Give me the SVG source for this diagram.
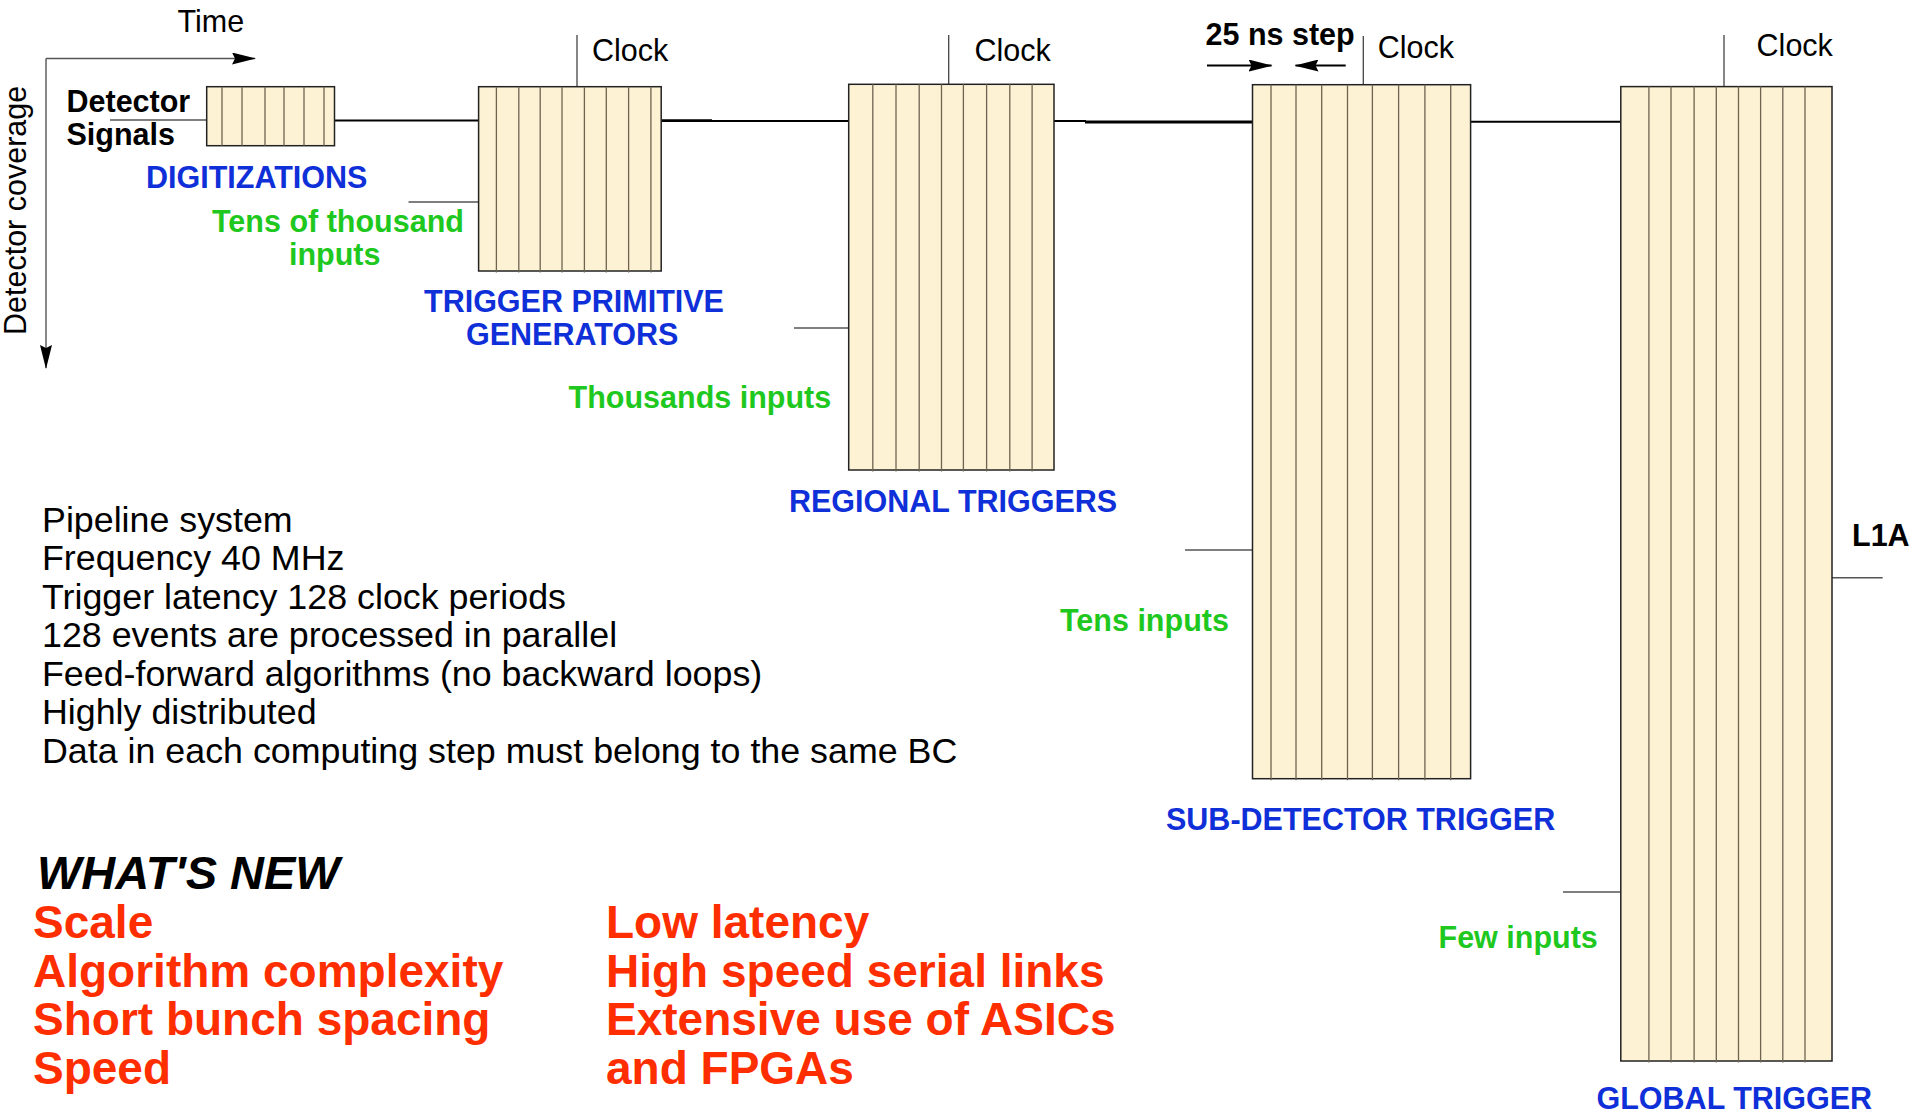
<svg xmlns="http://www.w3.org/2000/svg" width="1909" height="1113" viewBox="0 0 1909 1113">
  <style>
    text { font-family: "Liberation Sans", Arial, Helvetica, sans-serif; }
    .lbl { font-size: 30.5px; fill: #000; }
    .bold { font-weight: bold; }
    .blue { font-size: 30.5px; font-weight: bold; fill: #0f2fd8; }
    .green { font-size: 30.5px; font-weight: bold; fill: #1ec81e; }
    .body { font-size: 35.8px; fill: #000; }
    .red { font-size: 46px; font-weight: bold; fill: #ff2e00; }
    .box { fill: #fef2d5; stroke: #222; stroke-width: 1.5; }
    .col { stroke: #6e6450; stroke-width: 1.3; fill: none; }
    .wire { stroke: #000; stroke-width: 2; fill: none; }
    .wire-thick { stroke: #000; stroke-width: 2.8; fill: none; }
    .tap { stroke: #555; stroke-width: 1.4; fill: none; }
    .clk { stroke: #444; stroke-width: 1.3; fill: none; }
  </style>
  <defs>
    <marker id="arrow" markerUnits="userSpaceOnUse" markerWidth="24" markerHeight="12" refX="23" refY="6" orient="auto">
      <path d="M0,0 L24,6 L0,12 L3,6 z" fill="#000"/>
    </marker>
  </defs>

  <rect width="1909" height="1113" fill="#fff"/>

  <!-- axes -->
  <g id="axes">
    <line class="tap" x1="46" y1="58.5" x2="255" y2="58.5" stroke="#333" marker-end="url(#arrow)"/>
    <line class="tap" x1="46" y1="58.5" x2="46" y2="368" stroke="#333" marker-end="url(#arrow)"/>
    <text class="lbl" x="177.5" y="31.5">Time</text>
    <text class="lbl" transform="translate(26,335) rotate(-90)">Detector coverage</text>
  </g>

  <!-- connectors between stages -->
  <g id="connectors">
    <line class="tap" x1="110" y1="120" x2="206.7" y2="120" stroke="#000" stroke-width="1.8"/>
    <line class="wire" x1="334.5" y1="120.5" x2="478.6" y2="120.5"/>
    <line class="wire-thick" x1="661" y1="120.7" x2="712" y2="120.7"/>
    <line class="wire" x1="712" y1="121" x2="848.7" y2="121"/>
    <line class="wire" x1="1054" y1="121" x2="1086" y2="121"/>
    <line class="wire-thick" x1="1085" y1="122" x2="1252.5" y2="122"/>
    <line class="wire" x1="1470.6" y1="121.8" x2="1620.8" y2="121.8"/>
    <!-- clock taps -->
    <line class="clk" x1="577" y1="35" x2="577" y2="86.7"/>
    <line class="clk" x1="948.7" y1="35" x2="948.7" y2="84.3"/>
    <line class="clk" x1="1363.3" y1="36" x2="1363.3" y2="84.7"/>
    <line class="clk" x1="1724" y1="35" x2="1724" y2="86.6"/>
    <!-- side inputs -->
    <line class="tap" x1="408.5" y1="202" x2="478.6" y2="202"/>
    <line class="tap" x1="794" y1="328" x2="848.7" y2="328"/>
    <line class="tap" x1="1185" y1="550" x2="1252.5" y2="550"/>
    <line class="tap" x1="1563" y1="892" x2="1620.8" y2="892"/>
    <!-- L1A output -->
    <line class="tap" x1="1832" y1="577.7" x2="1882.7" y2="577.7"/>
    <!-- 25 ns step markers -->
    <line class="wire" x1="1207" y1="65.5" x2="1271.5" y2="65.5" stroke-width="1.4" marker-end="url(#arrow)"/>
    <line class="wire" x1="1345.7" y1="65.5" x2="1295.5" y2="65.5" stroke-width="1.4" marker-end="url(#arrow)"/>
  </g>

  <g id="detector-signals">
    <text class="lbl bold" x="66.5" y="112">Detector</text>
    <text class="lbl bold" x="66.5" y="144.5">Signals</text>
  </g>

  <g id="digitizations">
    <rect class="box" x="206.7" y="86.7" width="127.8" height="59"/>
    <path class="col" d="M222,86.7V145.7 M242,86.7V145.7 M265,86.7V145.7 M284,86.7V145.7 M304,86.7V145.7 M324,86.7V145.7"/>
    <text class="blue" x="146" y="188">DIGITIZATIONS</text>
  </g>

  <g id="trigger-primitive-generators">
    <rect class="box" x="478.6" y="86.7" width="182.6" height="184.3"/>
    <path class="col" d="M496.4,86.7V272.5 M518.8,86.7V272.5 M540.2,86.7V272.5 M562,86.7V272.5 M584.4,86.7V272.5 M606.3,86.7V272.5 M628.6,86.7V272.5 M650.9,86.7V272.5"/>
    <text class="lbl" x="592" y="60.5">Clock</text>
    <text class="green" x="212" y="232">Tens of thousand</text>
    <text class="green" x="289" y="265">inputs</text>
    <text class="blue" x="424" y="312">TRIGGER PRIMITIVE</text>
    <text class="blue" x="466" y="345">GENERATORS</text>
  </g>

  <g id="regional-triggers">
    <rect class="box" x="848.7" y="84.3" width="205.3" height="385.7"/>
    <path class="col" d="M872.8,84.3V471.5 M896,84.3V471.5 M919.2,84.3V471.5 M941.5,84.3V471.5 M963.4,84.3V471.5 M986.6,84.3V471.5 M1009.8,84.3V471.5 M1032.1,84.3V471.5"/>
    <text class="lbl" x="974.5" y="60.5">Clock</text>
    <text class="green" x="568.6" y="408">Thousands inputs</text>
    <text class="blue" x="789" y="511.5">REGIONAL TRIGGERS</text>
  </g>

  <g id="sub-detector-trigger">
    <rect class="box" x="1252.5" y="84.7" width="218.1" height="694"/>
    <path class="col" d="M1271,84.7V780.2 M1296,84.7V780.2 M1321.7,84.7V780.2 M1347.5,84.7V780.2 M1372.4,84.7V780.2 M1398.6,84.7V780.2 M1424.9,84.7V780.2 M1450.7,84.7V780.2"/>
    <text class="lbl" x="1377.8" y="58">Clock</text>
    <text class="lbl bold" x="1205.5" y="45">25 ns step</text>
    <text class="green" x="1060" y="631">Tens inputs</text>
    <text class="blue" x="1166" y="830">SUB-DETECTOR TRIGGER</text>
  </g>

  <g id="global-trigger">
    <rect class="box" x="1620.8" y="86.6" width="211.2" height="974.4"/>
    <path class="col" d="M1648.9,86.6V1062.5 M1671,86.6V1062.5 M1694.1,86.6V1062.5 M1716.3,86.6V1062.5 M1738.5,86.6V1062.5 M1760.6,86.6V1062.5 M1782.8,86.6V1062.5 M1805,86.6V1062.5"/>
    <text class="lbl" x="1756.6" y="55.5">Clock</text>
    <text class="green" x="1438.5" y="948">Few inputs</text>
    <text class="blue" x="1596.5" y="1108.5">GLOBAL TRIGGER</text>
    <text class="lbl bold" x="1852" y="546">L1A</text>
  </g>

  <g id="properties">
    <text class="body" x="42" y="531.7">Pipeline system</text>
    <text class="body" x="42" y="570">Frequency 40 MHz</text>
    <text class="body" x="42" y="608.5">Trigger latency 128 clock periods</text>
    <text class="body" x="42" y="647">128 events are processed in parallel</text>
    <text class="body" x="42" y="685.5">Feed-forward algorithms (no backward loops)</text>
    <text class="body" x="42" y="724">Highly distributed</text>
    <text class="body" x="42" y="762.5">Data in each computing step must belong to the same BC</text>
  </g>

  <g id="whats-new">
    <text x="37" y="889" font-size="47" font-weight="bold" font-style="italic" fill="#000">WHAT'S NEW</text>
    <text class="red" x="33" y="938">Scale</text>
    <text class="red" x="33" y="987">Algorithm complexity</text>
    <text class="red" x="33" y="1035">Short bunch spacing</text>
    <text class="red" x="33" y="1083.5">Speed</text>
    <text class="red" x="606" y="938">Low latency</text>
    <text class="red" x="606" y="987">High speed serial links</text>
    <text class="red" x="606" y="1035">Extensive use of ASICs</text>
    <text class="red" x="606" y="1083.5">and FPGAs</text>
  </g>
</svg>
